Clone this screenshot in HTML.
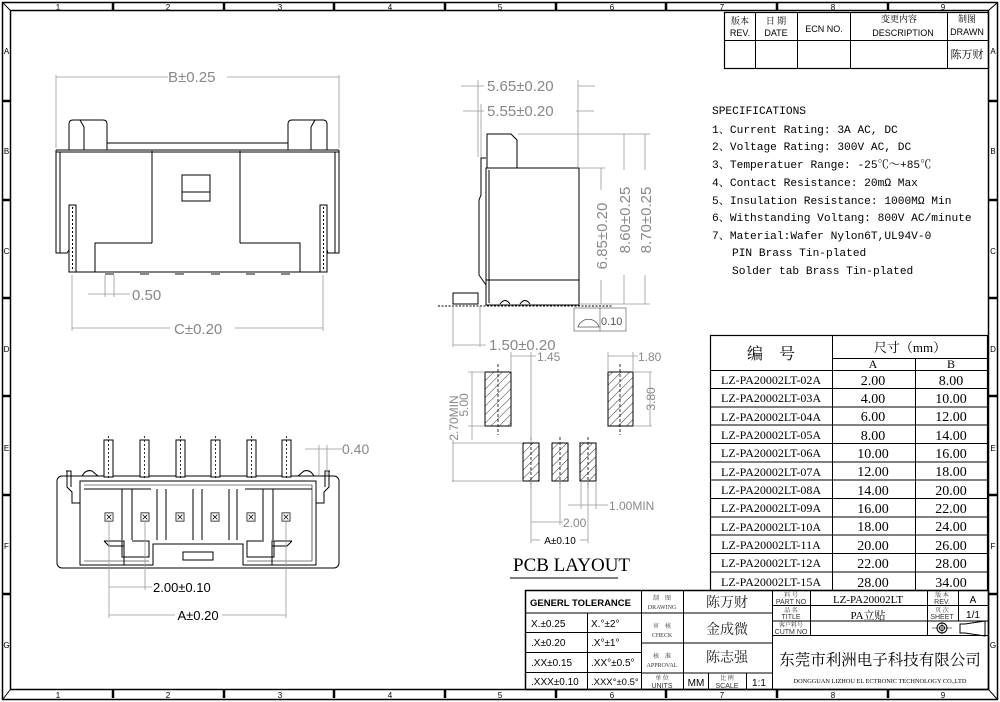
<!DOCTYPE html>
<html><head><meta charset="utf-8"><style>
html,body{margin:0;padding:0;background:#fff}
svg{display:block}
.s{font-family:"Liberation Serif","Noto Serif CJK SC",serif}
.m{font-family:"Liberation Mono","Noto Serif CJK SC",monospace}
.a{font-family:"Liberation Sans","Noto Sans CJK SC",sans-serif}
</style></head><body>
<svg width="1000" height="702" viewBox="0 0 1000 702" xmlns="http://www.w3.org/2000/svg">
<g fill="none" stroke="#000" stroke-width="1">
<rect x="2.5" y="2.5" width="995" height="697" stroke-width="1.5"/>
<rect x="10.5" y="10.5" width="978" height="679" stroke-width="1.5"/>
<line x1="3" y1="3" x2="10" y2="10"/><line x1="997" y1="3" x2="989" y2="10"/>
<line x1="3" y1="699" x2="10" y2="690"/><line x1="997" y1="699" x2="989" y2="690"/>
<g stroke-width="2.5">
<line x1="113" y1="3" x2="113" y2="10"/><line x1="224" y1="3" x2="224" y2="10"/><line x1="334" y1="3" x2="334" y2="10"/><line x1="445" y1="3" x2="445" y2="10"/><line x1="556" y1="3" x2="556" y2="10"/><line x1="666" y1="3" x2="666" y2="10"/><line x1="777" y1="3" x2="777" y2="10"/><line x1="888" y1="3" x2="888" y2="10"/>
<line x1="113" y1="690" x2="113" y2="698"/><line x1="224" y1="690" x2="224" y2="698"/><line x1="334" y1="690" x2="334" y2="698"/><line x1="445" y1="690" x2="445" y2="698"/><line x1="556" y1="690" x2="556" y2="698"/><line x1="666" y1="690" x2="666" y2="698"/><line x1="777" y1="690" x2="777" y2="698"/><line x1="888" y1="690" x2="888" y2="698"/>
<line x1="3" y1="101" x2="10" y2="101"/><line x1="3" y1="200" x2="10" y2="200"/><line x1="3" y1="298" x2="10" y2="298"/><line x1="3" y1="396" x2="10" y2="396"/><line x1="3" y1="495" x2="10" y2="495"/><line x1="3" y1="594" x2="10" y2="594"/>
<line x1="989" y1="101" x2="997" y2="101"/><line x1="989" y1="200" x2="997" y2="200"/><line x1="989" y1="298" x2="997" y2="298"/><line x1="989" y1="396" x2="997" y2="396"/><line x1="989" y1="495" x2="997" y2="495"/><line x1="989" y1="594" x2="997" y2="594"/>
</g>
</g>
<g class="a" font-size="8" fill="#000" text-anchor="middle">
<text x="58" y="10">1</text><text x="168" y="10">2</text><text x="280" y="10">3</text><text x="390" y="10">4</text><text x="500" y="10">5</text><text x="612" y="10">6</text><text x="722" y="10">7</text><text x="833" y="10">8</text><text x="943" y="10">9</text>
<text x="58" y="698">1</text><text x="168" y="698">2</text><text x="280" y="698">3</text><text x="390" y="698">4</text><text x="500" y="698">5</text><text x="612" y="698">6</text><text x="722" y="698">7</text><text x="833" y="698">8</text><text x="943" y="698">9</text>
<text x="6.5" y="54">A</text><text x="6.5" y="154">B</text><text x="6.5" y="254">C</text><text x="6.5" y="352">D</text><text x="6.5" y="451">E</text><text x="6.5" y="549">F</text><text x="6.5" y="648">G</text>
<text x="993" y="54">A</text><text x="993" y="154">B</text><text x="993" y="254">C</text><text x="993" y="352">D</text><text x="993" y="451">E</text><text x="993" y="549">F</text><text x="993" y="648">G</text>
</g>

<g fill="none" stroke="#000">
<rect x="724.5" y="12.5" width="264" height="56" stroke-width="1.2"/>
<line x1="724" y1="40.5" x2="989" y2="40.5"/>
<line x1="755.5" y1="12" x2="755.5" y2="69"/><line x1="797.5" y1="12" x2="797.5" y2="69"/><line x1="850.5" y1="12" x2="850.5" y2="69"/><line x1="947.5" y1="12" x2="947.5" y2="69"/>
</g>
<g fill="#000" text-anchor="middle">
<text class="s" x="740" y="24" font-size="9">版本</text><text class="a" x="740" y="36" font-size="9">REV.</text>
<text class="s" x="776" y="24" font-size="9">日 期</text><text class="a" x="776" y="36" font-size="9">DATE</text>
<text class="a" x="824" y="32" font-size="9">ECN  NO.</text>
<text class="s" x="899" y="22" font-size="9">变更内容</text><text class="a" x="903" y="36" font-size="9">DESCRIPTION</text>
<text class="s" x="967" y="22" font-size="9">制图</text><text class="a" x="967" y="35" font-size="9">DRAWN</text>
<text class="s" x="967" y="58" font-size="11">陈万财</text>
</g>

<!-- FRONT VIEW -->
<g fill="none" stroke="#000" stroke-width="1">
<path d="M69 150 V124 Q69 120 73 120 H103 Q107 120 107 124 V150"/><line x1="84" y1="127" x2="84" y2="150"/><line x1="80" y1="120" x2="84" y2="127"/>
<path d="M288 150 V124 Q288 120 292 120 H323 Q327 120 327 124 V150"/><line x1="311" y1="127" x2="311" y2="150"/><line x1="315" y1="120" x2="311" y2="127"/>
<line x1="107" y1="143" x2="288" y2="143"/>
<line x1="56" y1="150" x2="339" y2="150"/><line x1="56" y1="152" x2="339" y2="152"/>
<path d="M56 150 V253 H67 L69 250"/><path d="M339 150 V253 H328 L327 250"/>
<line x1="60" y1="152" x2="60" y2="253"/><line x1="335" y1="152" x2="335" y2="253"/>
<line x1="152" y1="151" x2="152" y2="243"/><line x1="240" y1="151" x2="240" y2="243"/>
<path d="M152 243 H95 V272"/><path d="M240 243 H300 V272"/>
<line x1="69" y1="272" x2="327" y2="272"/>
<rect x="182" y="175" width="28" height="26"/><line x1="182" y1="192" x2="210" y2="192"/>
<rect x="69" y="205" width="7" height="67"/><rect x="320" y="205" width="7" height="67"/>
<line x1="72.5" y1="207" x2="72.5" y2="270" stroke-dasharray="2,2"/><line x1="323.5" y1="207" x2="323.5" y2="270" stroke-dasharray="2,2"/>
</g>
<g fill="#888"><rect x="105" y="272" width="9" height="3"/><rect x="140" y="272" width="9" height="3"/><rect x="175" y="272" width="9" height="3"/><rect x="211" y="272" width="9" height="3"/><rect x="246" y="272" width="9" height="3"/><rect x="281" y="272" width="9" height="3"/></g>
<g stroke="#999" fill="none" stroke-width="0.8">
<line x1="56" y1="75" x2="56" y2="148"/><line x1="339" y1="75" x2="339" y2="148"/>
<line x1="56" y1="77" x2="168" y2="77"/><line x1="227" y1="77" x2="339" y2="77"/>
<line x1="105" y1="275" x2="105" y2="297"/><line x1="114" y1="275" x2="114" y2="297"/>
<line x1="88" y1="294" x2="130" y2="294"/>
<line x1="72" y1="275" x2="72" y2="331"/><line x1="323" y1="275" x2="323" y2="331"/>
<line x1="72" y1="328" x2="170" y2="328"/><line x1="235" y1="328" x2="323" y2="328"/>
</g>
<g class="a" fill="#888" font-size="15">
<text x="168" y="82">B±0.25</text>
<text x="132" y="300">0.50</text>
<text x="174" y="334">C±0.20</text>
</g>

<!-- SIDE VIEW -->
<g fill="none" stroke="#000">
<path d="M487 168 V134 H511 L517 140 V168"/>
<rect x="486" y="168" width="93" height="137"/>
<line x1="489" y1="170" x2="489" y2="303"/>
<line x1="486" y1="280" x2="579" y2="280"/>
<path d="M486 158 H481 V195 L479 200 V275 L486 285"/>
<path d="M478 293 H453 V304 H478 Z"/>
<path d="M500 304 q5 -7 10 0 M520 304 q5 -7 10 0"/>
<line x1="438" y1="306" x2="612" y2="306" stroke-dasharray="2,1.5"/>
</g>
<g stroke="#999" fill="none" stroke-width="0.8">
<line x1="461" y1="86" x2="484" y2="86"/><line x1="578" y1="86" x2="595" y2="86"/>
<line x1="463" y1="111" x2="484" y2="111"/><line x1="576" y1="111" x2="594" y2="111"/>
<line x1="478" y1="80" x2="478" y2="157"/><line x1="481" y1="104" x2="481" y2="157"/><line x1="578" y1="80" x2="578" y2="167"/>
<line x1="518" y1="134" x2="650" y2="134"/><line x1="580" y1="168" x2="605" y2="168"/><line x1="580" y1="304" x2="650" y2="304"/>
<line x1="601" y1="168" x2="601" y2="190"/><line x1="601" y1="280" x2="601" y2="304"/>
<line x1="624" y1="134" x2="624" y2="170"/><line x1="624" y1="275" x2="624" y2="304"/>
<line x1="645" y1="134" x2="645" y2="170"/><line x1="645" y1="275" x2="645" y2="304"/>
<line x1="453" y1="306" x2="453" y2="347"/><line x1="480" y1="306" x2="480" y2="347"/>
<line x1="453" y1="345" x2="486" y2="345"/>
<rect x="574" y="308" width="52" height="23" stroke="#777"/><line x1="600" y1="308" x2="600" y2="331" stroke="#777"/>
<path d="M578 327 A11 11 0 0 1 599 327 Z" stroke="#555"/>
</g>
<g class="a" fill="#888" font-size="15">
<text x="487" y="91">5.65±0.20</text>
<text x="487" y="116">5.55±0.20</text>
<text x="489" y="350">1.50±0.20</text>
<text transform="translate(607,236) rotate(-90)" text-anchor="middle">6.85±0.20</text>
<text transform="translate(630,220) rotate(-90)" text-anchor="middle">8.60±0.25</text>
<text transform="translate(651,220) rotate(-90)" text-anchor="middle">8.70±0.25</text>
<text x="601" y="325" font-size="11" fill="#555">0.10</text>
</g>

<!-- SPECIFICATIONS -->
<g class="m" fill="#000" font-size="11.2">
<text x="712" y="114">SPECIFICATIONS</text>
<text x="712" y="133">1、Current Rating: 3A AC, DC</text>
<text x="712" y="150">2、Voltage Rating: 300V AC, DC</text>
<text x="712" y="168">3、Temperatuer Range: -25℃～+85℃</text>
<text x="712" y="186">4、Contact Resistance: 20mΩ Max</text>
<text x="712" y="204">5、Insulation Resistance: 1000MΩ Min</text>
<text x="712" y="221">6、Withstanding Voltang: 800V AC/minute</text>
<text x="712" y="239">7、Material:Wafer Nylon6T,UL94V-0</text>
<text x="732" y="256">PIN Brass Tin-plated</text>
<text x="732" y="274">Solder tab Brass Tin-plated</text>
</g>

<g fill="none" stroke="#000">
<rect x="710.5" y="335.5" width="277" height="255" stroke-width="1.2"/>
<line x1="832.5" y1="335" x2="832.5" y2="590"/><line x1="915.5" y1="358" x2="915.5" y2="590"/>
<line x1="832" y1="358.5" x2="988" y2="358.5"/>
<line x1="710" y1="370.5" x2="988" y2="370.5"/>
<line x1="710" y1="388.5" x2="988" y2="388.5"/><line x1="710" y1="407" x2="988" y2="407"/><line x1="710" y1="425" x2="988" y2="425"/><line x1="710" y1="443.5" x2="988" y2="443.5"/><line x1="710" y1="462" x2="988" y2="462"/><line x1="710" y1="480" x2="988" y2="480"/><line x1="710" y1="498.5" x2="988" y2="498.5"/><line x1="710" y1="517" x2="988" y2="517"/><line x1="710" y1="535" x2="988" y2="535"/><line x1="710" y1="553.5" x2="988" y2="553.5"/><line x1="710" y1="572" x2="988" y2="572"/>
</g>
<g class="s" fill="#000" text-anchor="middle">
<text x="771" y="359" font-size="16">编　号</text>
<text x="910" y="352" font-size="13">尺寸（mm）</text>
<text x="873" y="368" font-size="12">A</text><text x="951" y="368" font-size="12">B</text>
</g>
<g class="s" fill="#000" font-size="12" text-anchor="middle">
<text x="771" y="384">LZ-PA20002LT-02A</text><text x="873" y="385" font-size="14">2.00</text><text x="951" y="385" font-size="14">8.00</text>
<text x="771" y="402">LZ-PA20002LT-03A</text><text x="873" y="403" font-size="14">4.00</text><text x="951" y="403" font-size="14">10.00</text>
<text x="771" y="421">LZ-PA20002LT-04A</text><text x="873" y="421" font-size="14">6.00</text><text x="951" y="421" font-size="14">12.00</text>
<text x="771" y="439">LZ-PA20002LT-05A</text><text x="873" y="440" font-size="14">8.00</text><text x="951" y="440" font-size="14">14.00</text>
<text x="771" y="457">LZ-PA20002LT-06A</text><text x="873" y="458" font-size="14">10.00</text><text x="951" y="458" font-size="14">16.00</text>
<text x="771" y="476">LZ-PA20002LT-07A</text><text x="873" y="476" font-size="14">12.00</text><text x="951" y="476" font-size="14">18.00</text>
<text x="771" y="494">LZ-PA20002LT-08A</text><text x="873" y="495" font-size="14">14.00</text><text x="951" y="495" font-size="14">20.00</text>
<text x="771" y="512">LZ-PA20002LT-09A</text><text x="873" y="513" font-size="14">16.00</text><text x="951" y="513" font-size="14">22.00</text>
<text x="771" y="531">LZ-PA20002LT-10A</text><text x="873" y="531" font-size="14">18.00</text><text x="951" y="531" font-size="14">24.00</text>
<text x="771" y="549">LZ-PA20002LT-11A</text><text x="873" y="550" font-size="14">20.00</text><text x="951" y="550" font-size="14">26.00</text>
<text x="771" y="567">LZ-PA20002LT-12A</text><text x="873" y="568" font-size="14">22.00</text><text x="951" y="568" font-size="14">28.00</text>
<text x="771" y="586">LZ-PA20002LT-15A</text><text x="873" y="587" font-size="14">28.00</text><text x="951" y="587" font-size="14">34.00</text>
</g>

<!-- PCB LAYOUT -->
<defs><pattern id="h" width="6" height="6" patternUnits="userSpaceOnUse" patternTransform="rotate(45)"><line x1="0" y1="0" x2="0" y2="6" stroke="#000" stroke-width="0.8"/></pattern></defs>
<g stroke="#000" fill="url(#h)">
<rect x="485" y="372" width="26" height="54"/><rect x="608" y="372" width="25" height="54"/>
<rect x="523" y="443" width="16" height="38"/><rect x="552" y="443" width="16" height="38"/><rect x="580" y="443" width="16" height="38"/>
</g>
<g stroke="#000" stroke-dasharray="3,2" fill="none" stroke-width="0.8">
<line x1="498" y1="364" x2="498" y2="435"/><line x1="620" y1="364" x2="620" y2="435"/>
<line x1="531" y1="437" x2="531" y2="488"/><line x1="560" y1="437" x2="560" y2="488"/><line x1="588" y1="437" x2="588" y2="488"/>
</g>
<g stroke="#999" fill="none" stroke-width="0.8">
<line x1="511" y1="352" x2="511" y2="372"/><line x1="531" y1="352" x2="531" y2="443"/><line x1="511" y1="356" x2="536" y2="356"/>
<line x1="608" y1="352" x2="608" y2="372"/><line x1="633" y1="352" x2="633" y2="372"/><line x1="608" y1="356" x2="638" y2="356"/>
<line x1="468" y1="372" x2="485" y2="372"/><line x1="468" y1="426" x2="485" y2="426"/><line x1="472" y1="372" x2="472" y2="440"/>
<line x1="452" y1="443" x2="523" y2="443"/><line x1="452" y1="481" x2="523" y2="481"/><line x1="453" y1="440" x2="453" y2="482"/>
<line x1="633" y1="372" x2="652" y2="372"/><line x1="633" y1="426" x2="652" y2="426"/><line x1="650" y1="372" x2="650" y2="426"/>
<line x1="581" y1="481" x2="581" y2="509"/><line x1="596" y1="481" x2="596" y2="509"/><line x1="568" y1="505" x2="608" y2="505"/>
<line x1="531" y1="481" x2="531" y2="543"/><line x1="560" y1="481" x2="560" y2="525"/><line x1="588" y1="481" x2="588" y2="543"/>
<line x1="531" y1="522" x2="563" y2="522"/>
<line x1="531" y1="540" x2="540" y2="540"/><line x1="580" y1="540" x2="588" y2="540"/>
</g>
<g class="a" fill="#888" font-size="12">
<text x="537" y="361">1.45</text><text x="638" y="361">1.80</text>
<text transform="translate(468,405) rotate(-90)" text-anchor="middle">5.00</text>
<text transform="translate(458,418) rotate(-90)" text-anchor="middle">2.70MIN</text>
<text transform="translate(655,399) rotate(-90)" text-anchor="middle">3.80</text>
<text x="609" y="510">1.00MIN</text><text x="563" y="527">2.00</text>
<text x="560" y="544" text-anchor="middle" font-size="10" fill="#000">A±0.10</text>
</g>
<text class="s" x="513" y="571" font-size="19" fill="#000">PCB LAYOUT</text>
<line x1="510" y1="578" x2="618" y2="578" stroke="#555" stroke-width="1.5"/>

<!-- BOTTOM VIEW -->
<g fill="none" stroke="#000">
<rect x="57" y="476" width="282" height="92" rx="5"/>
<path d="M80 481 H316 V565 H243 V544 H153 V565 H80 Z"/>
<path d="M84 485 H312 V561 H247 M149 561 H84 Z" stroke-width="0.6"/>
<line x1="84" y1="489" x2="151" y2="489"/><line x1="245" y1="489" x2="312" y2="489"/>
<line x1="122" y1="489" x2="122" y2="540"/><line x1="132" y1="489" x2="132" y2="540"/>
<line x1="157" y1="489" x2="157" y2="540"/><line x1="166" y1="489" x2="166" y2="540"/>
<line x1="193" y1="489" x2="193" y2="540"/><line x1="202" y1="489" x2="202" y2="540"/>
<line x1="229" y1="489" x2="229" y2="540"/><line x1="237" y1="489" x2="237" y2="540"/>
<line x1="263" y1="489" x2="263" y2="540"/><line x1="273" y1="489" x2="273" y2="540"/>
<path d="M104 541 H124 V565 M104 541 L109 546 H124"/>
<path d="M122 541 V557 H149 V541 H132"/>
<path d="M292 541 H272 V565 M292 541 L287 546 H272"/>
<path d="M274 541 V557 H247 V541 H264"/>
<rect x="183" y="552" width="30" height="8"/>
<path d="M67 471 V487 L72 492 V503 H80 M66 471 H71 V487"/>
<path d="M329 471 V487 L324 492 V503 H316 M330 471 H325 V487"/>
<path d="M82 476 Q86 469 92 471 L98 476"/><path d="M314 476 Q310 469 304 471 L298 476"/>
</g>
<g fill="#fff" stroke="#000">
<rect x="104" y="440" width="9" height="37"/><rect x="140" y="440" width="9" height="37"/><rect x="176" y="440" width="9" height="37"/><rect x="211" y="440" width="9" height="37"/><rect x="247" y="440" width="9" height="37"/><rect x="282" y="440" width="9" height="37"/>
</g>
<g stroke="#000" stroke-dasharray="2,2" stroke-width="0.8">
<line x1="108.5" y1="436" x2="108.5" y2="480"/><line x1="144.5" y1="436" x2="144.5" y2="480"/><line x1="180.5" y1="436" x2="180.5" y2="480"/><line x1="215.5" y1="436" x2="215.5" y2="480"/><line x1="251.5" y1="436" x2="251.5" y2="480"/><line x1="286.5" y1="436" x2="286.5" y2="480"/>
</g>
<g class="a" font-size="11" fill="#000" text-anchor="middle">
<text x="109" y="521">⊠</text><text x="145" y="521">⊠</text><text x="180" y="521">⊠</text><text x="215" y="521">⊠</text><text x="251" y="521">⊠</text><text x="286" y="521">⊠</text>
</g>
<g stroke="#999" fill="none" stroke-width="0.8">
<line x1="319" y1="445" x2="319" y2="475"/><line x1="327" y1="445" x2="327" y2="475"/><line x1="305" y1="449" x2="342" y2="449"/>
<line x1="109" y1="522" x2="109" y2="618"/><line x1="145" y1="522" x2="145" y2="590"/><line x1="286" y1="522" x2="286" y2="618"/>
<line x1="109" y1="587" x2="152" y2="587"/>
<line x1="109" y1="615" x2="175" y2="615"/><line x1="222" y1="615" x2="286" y2="615"/>
</g>
<text class="a" x="342" y="454" font-size="14" fill="#888">0.40</text>
<text class="a" x="153" y="592" font-size="13" fill="#000">2.00±0.10</text>
<text class="a" x="198" y="620" font-size="13" fill="#000" text-anchor="middle">A±0.20</text>

<!-- TITLE BLOCK -->
<g fill="none" stroke="#000">
<rect x="525.5" y="590.5" width="463" height="99" stroke-width="1.5"/>
<line x1="525" y1="613" x2="641" y2="613"/><line x1="525" y1="632.5" x2="641" y2="632.5"/><line x1="525" y1="652.5" x2="641" y2="652.5"/><line x1="525" y1="672.5" x2="641" y2="672.5"/>
<line x1="587.5" y1="613" x2="587.5" y2="690"/><line x1="641.5" y1="590" x2="641.5" y2="690"/>
<line x1="683.5" y1="590" x2="683.5" y2="673"/>
<line x1="641" y1="613" x2="772" y2="613"/><line x1="641" y1="643" x2="772" y2="643"/><line x1="641" y1="673" x2="772" y2="673"/>
<line x1="683.5" y1="673" x2="683.5" y2="690"/><line x1="708.5" y1="673" x2="708.5" y2="690"/><line x1="746.5" y1="673" x2="746.5" y2="690"/>
<line x1="772.5" y1="590" x2="772.5" y2="690"/>
<line x1="810.5" y1="590" x2="810.5" y2="635"/>
<line x1="772" y1="605.5" x2="988" y2="605.5"/><line x1="772" y1="621" x2="988" y2="621"/><line x1="772" y1="635.5" x2="988" y2="635.5"/>
<line x1="927.5" y1="590" x2="927.5" y2="635"/><line x1="958.5" y1="590" x2="958.5" y2="621"/>
<circle cx="942" cy="628" r="5"/><circle cx="942" cy="628" r="2.5"/>
<line x1="932" y1="628" x2="952" y2="628" stroke-width="0.6"/><line x1="942" y1="622" x2="942" y2="634" stroke-width="0.6"/>
<path d="M960 624 V633 H965 L985 636 V621 L965 624 Z"/>
</g>
<g fill="#000">
<text class="a" x="530" y="606" font-size="9.5" font-weight="bold">GENERL TOLERANCE</text>
<g class="a" font-size="10">
<text x="531" y="627">X.±0.25</text><text x="591" y="627">X.°±2°</text>
<text x="531" y="646">.X±0.20</text><text x="591" y="646">.X°±1°</text>
<text x="531" y="666">.XX±0.15</text><text x="591" y="666">.XX°±0.5°</text>
<text x="531" y="685">.XXX±0.10</text><text x="591" y="685" font-size="9.5">.XXX°±0.5°</text>
</g>
<g class="s" font-size="6" text-anchor="middle" fill="#333">
<text x="662" y="600">制　图</text><text x="662" y="609">DRAWING</text>
<text x="662" y="628">审　核</text><text x="662" y="637">CHECK</text>
<text x="662" y="658">核　准</text><text x="662" y="667">APPROVAL</text>
<text x="662" y="680">单 位</text><text class="a" x="662" y="688" font-size="7">UNITS</text>
<text x="727" y="680">比 例</text><text class="a" x="727" y="688" font-size="7">SCALE</text>
<text x="791" y="597">料 号</text><text class="a" x="791" y="604" font-size="7">PART NO</text>
<text x="791" y="612">品 名</text><text class="a" x="791" y="619" font-size="7">TITLE</text>
<text x="791" y="627">客户料号</text><text class="a" x="791" y="634" font-size="7">CUTM NO</text>
<text x="942" y="597">版 本</text><text class="a" x="942" y="604" font-size="7">REV.</text>
<text x="942" y="612">页 次</text><text class="a" x="942" y="619" font-size="7">SHEET</text>
</g>
<g class="s" text-anchor="middle" font-size="14" fill="#222">
<text x="727" y="607">陈万财</text><text x="727" y="634">金成微</text><text x="727" y="662">陈志强</text>
</g>
<text class="a" x="696" y="686" font-size="10" text-anchor="middle">MM</text>
<text class="a" x="759" y="686" font-size="10" text-anchor="middle">1:1</text>
<text class="s" x="868" y="603" font-size="11" text-anchor="middle">LZ-PA20002LT</text>
<text class="s" x="868" y="619" font-size="11" text-anchor="middle">PA立贴</text>
<text class="a" x="973" y="603" font-size="10" text-anchor="middle">A</text>
<text class="a" x="973" y="618" font-size="10" text-anchor="middle">1/1</text>
<text class="s" x="880" y="665" font-size="15.5" text-anchor="middle">东莞市利洲电子科技有限公司</text>
<text class="s" x="880" y="683" font-size="6.3" text-anchor="middle">DONGGUAN LIZHOU EL ECTRONIC TECHNOLOGY CO.,LTD</text>
</g>
</svg>
</body></html>
